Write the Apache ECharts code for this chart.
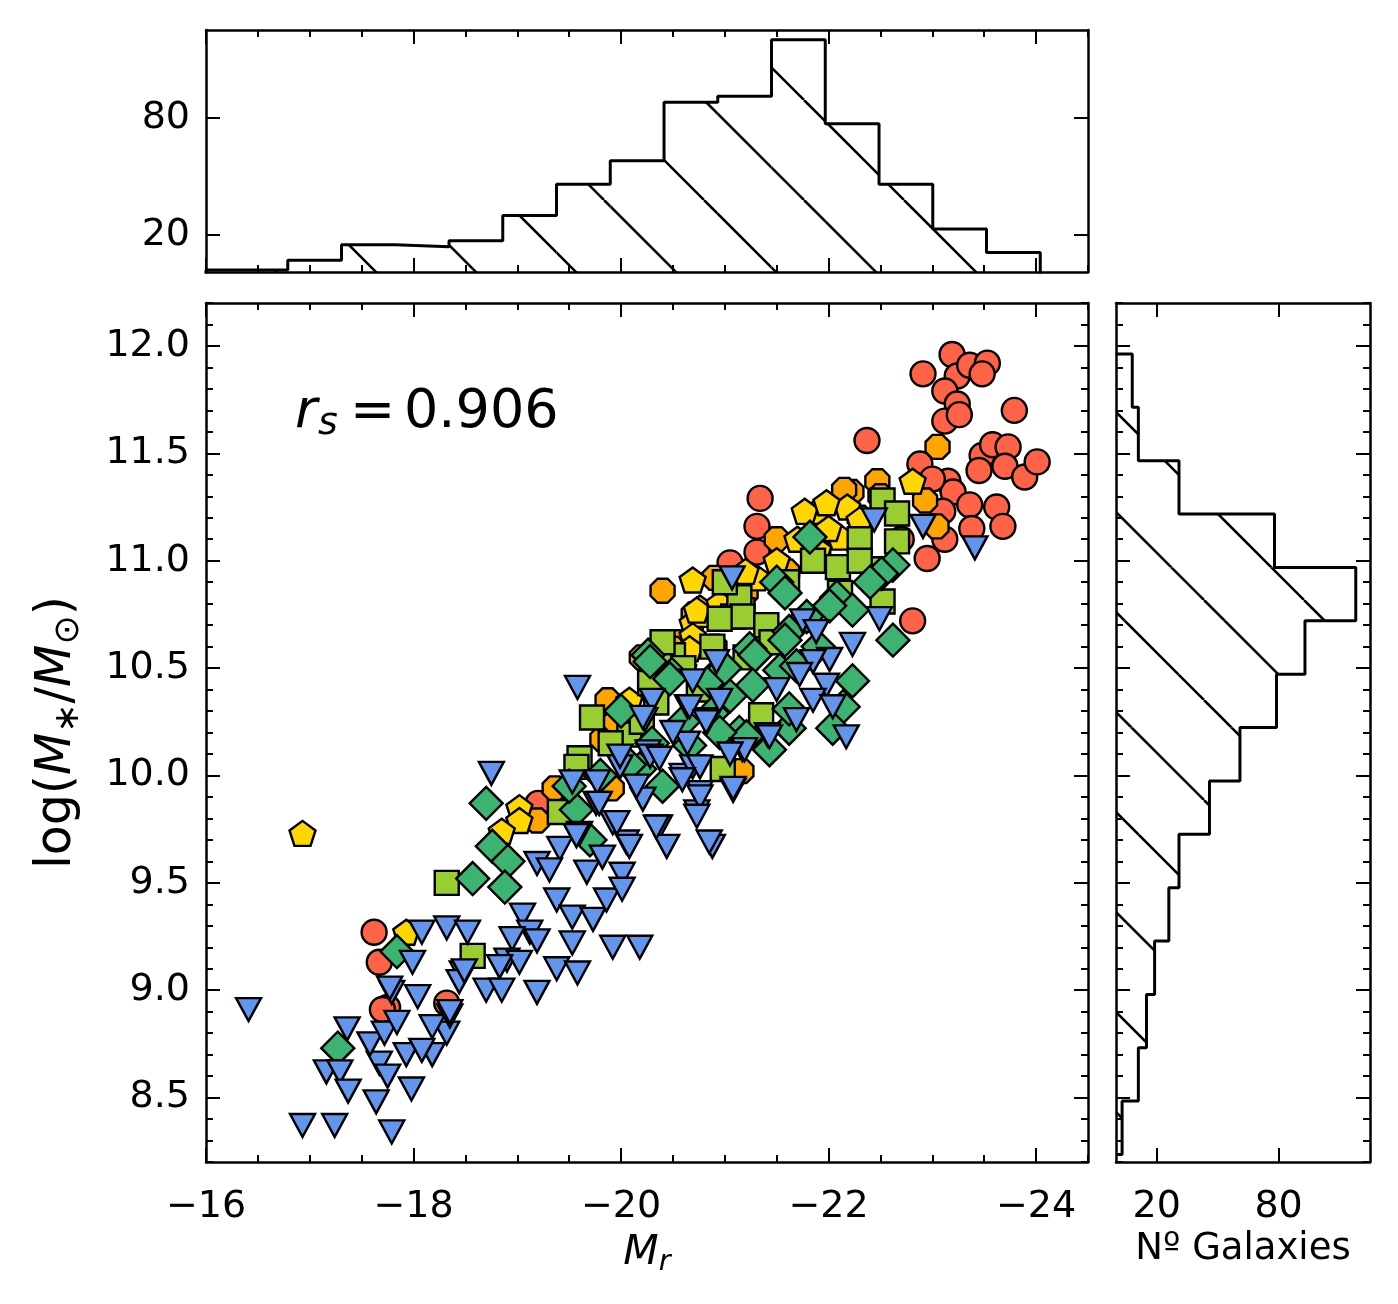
<!DOCTYPE html>
<html>
<head>
<meta charset="utf-8">
<script src="https://cdn.jsdelivr.net/npm/echarts@6/dist/echarts.min.js"></script>
<style>
  html, body { margin: 0; padding: 0; background: #fff; }
  #chart { width: 1398px; height: 1304px; }
</style>
</head>
<body>
<div id="chart"></div>
<script>
// scatter points: [M_r, log(M*/Msun)]
const redCircles = [
  [-23.19,11.96],[-22.91,11.87],[-23.24,11.86],[-23.36,11.91],[-23.53,11.92],[-23.48,11.87],[-23.12,11.79],
  [-23.24,11.73],[-23.12,11.65],[-23.26,11.68],[-23.79,11.70],[-22.37,11.56],[-22.88,11.45],[-23.15,11.37],
  [-23.20,11.32],[-23.36,11.26],[-23.62,11.25],[-23.48,11.49],[-23.58,11.54],[-23.73,11.53],[-23.70,11.44],
  [-23.89,11.39],[-24.01,11.46],[-23.68,11.16],[-23.38,11.15],[-23.12,11.10],[-23.10,11.23],[-22.95,11.01],
  [-22.81,10.72],[-21.34,11.29],[-21.31,11.16],[-21.31,11.04],[-21.05,10.99],[-17.62,9.27],[-17.67,9.13],
  [-17.75,8.92],[-17.70,8.91],[-18.32,8.94],[-19.20,9.87],[-23.00,11.38],[-23.45,11.42],[-22.70,11.10]
];
const orangeOctagons = [
  [-23.05,11.53],[-22.47,11.37],[-22.93,11.28],[-23.04,11.16],[-22.22,11.32],[-22.15,11.33],[-20.40,10.86],
  [-20.90,10.92],[-19.87,10.35],[-19.82,10.17],[-20.54,10.62],[-20.50,10.59],[-19.36,9.94],[-19.91,9.94],
  [-19.19,9.79],[-21.16,10.02],[-20.70,10.75],[-21.20,10.85],[-21.60,10.95],[-21.90,11.05],[-22.30,11.20],
  [-20.90,10.60],[-21.50,11.10],[-22.50,11.30],[-20.20,10.55],[-19.95,10.25]
];
const goldPentagons = [
  [-16.93,9.73],[-22.81,11.37],[-22.18,11.25],[-21.89,11.23],[-21.77,11.23],[-21.98,11.27],[-20.69,10.91],
  [-21.31,10.92],[-20.76,10.78],[-20.69,10.71],[-22.11,11.11],[-22.30,11.19],[-20.78,10.75],[-20.73,10.77],
  [-20.69,10.65],[-20.66,10.59],[-20.08,10.35],[-19.02,9.85],[-19.02,9.79],[-18.85,9.74],[-17.93,9.27],
  [-21.50,11.00],[-21.70,11.10],[-21.20,10.95],[-20.95,10.80],[-22.00,11.15],[-20.60,10.50],[-20.40,10.45],
  [-21.90,11.05],[-20.30,10.40]
];
const greenSquares = [
  [-22.52,11.28],[-22.66,11.22],[-22.30,11.10],[-22.66,11.09],[-22.49,10.96],[-22.09,10.97],[-21.17,10.77],
  [-21.08,10.74],[-22.11,10.85],[-21.14,10.83],[-21.17,10.74],[-20.95,10.73],[-20.88,10.60],[-20.28,10.43],
  [-20.50,10.56],[-19.72,10.27],[-20.08,10.19],[-19.60,10.08],[-19.57,10.04],[-19.41,9.83],[-18.32,9.50],
  [-18.57,9.16],[-22.52,10.81],[-21.35,10.28],[-20.34,10.34],[-20.98,10.03],[-20.60,10.50],[-21.40,10.70],
  [-21.60,10.90],[-21.85,11.00],[-20.20,10.25],[-20.75,10.40],[-21.20,10.55],[-22.30,11.00],[-19.90,10.15],
  [-21.00,10.90],[-20.40,10.62],[-21.45,10.62]
];
const seaDiamonds = [
  [-21.82,11.11],[-22.62,10.98],[-22.51,10.94],[-22.08,10.83],[-22.23,10.77],[-21.79,10.74],[-21.50,10.90],
  [-21.58,10.85],[-22.62,10.63],[-21.24,10.59],[-21.62,10.67],[-20.26,10.56],[-20.49,10.47],[-21.29,10.56],
  [-21.27,10.42],[-21.05,10.37],[-20.85,10.44],[-22.01,10.79],[-21.58,10.63],[-21.53,10.49],[-22.23,10.44],
  [-22.14,10.32],[-22.04,10.22],[-21.62,10.22],[-21.43,10.12],[-21.14,10.20],[-19.57,9.84],[-19.70,9.70],
  [-18.70,9.87],[-18.76,9.67],[-18.91,9.60],[-18.57,9.52],[-18.88,9.48],[-17.84,9.18],[-17.27,8.73],
  [-20.28,10.53],[-20.47,10.45],[-21.21,10.18],[-20.66,10.14],[-20.18,10.03],[-20.88,10.29],[-21.69,10.51],
  [-21.62,10.31],[-20.08,10.05],[-20.00,10.30],[-20.60,10.25],[-19.80,10.00],[-19.50,9.95],[-20.30,10.15],
  [-21.00,10.50],[-21.90,10.60],[-22.40,10.90],[-20.95,10.20],[-20.40,9.95]
];
const blueTriangles = [
  [-16.41,8.91],[-17.36,8.82],[-17.16,8.62],[-17.29,8.62],[-17.37,8.53],[-16.93,8.37],[-17.24,8.37],
  [-17.79,8.34],[-17.64,8.48],[-17.67,8.66],[-17.75,8.60],[-17.58,8.75],[-17.72,8.80],[-17.84,8.85],
  [-17.93,8.70],[-17.98,8.54],[-18.18,8.70],[-18.08,8.72],[-18.32,8.80],[-18.18,8.83],[-18.35,8.88],
  [-17.79,8.99],[-18.04,8.97],[-17.99,9.13],[-18.08,9.27],[-18.32,9.29],[-18.52,9.27],[-18.47,9.08],
  [-18.44,9.04],[-17.77,9.01],
  [-18.75,10.01],[-19.60,9.73],[-19.41,9.66],[-19.19,9.59],[-19.67,9.55],[-19.82,9.62],[-20.01,9.54],
  [-20.05,9.69],[-19.92,9.78],[-19.76,9.87],[-19.53,9.97],[-19.77,9.97],[-19.99,10.04],[-20.21,9.89],
  [-20.37,9.76],[-20.44,9.67],[-20.88,9.67],[-20.73,9.83],[-20.76,9.92],[-21.08,9.93],[-20.59,10.00],
  [-20.69,10.04],[-19.38,9.42],[-19.53,9.34],[-19.73,9.33],[-19.86,9.42],[-20.01,9.47],[-19.05,9.35],
  [-19.12,9.27],[-18.95,9.24],[-19.19,9.23],[-18.90,9.14],[-19.02,9.13],[-18.83,9.11],[-18.49,9.09],
  [-18.70,9.00],[-18.85,9.00],[-19.19,8.99],[-19.38,9.10],[-19.58,9.08],[-19.92,9.20],[-20.18,9.20],
  [-18.35,8.90],[-19.53,9.22],[-19.57,9.72],[-19.31,9.56],
  [-21.07,10.92],[-20.92,10.53],[-20.69,10.44],[-20.30,10.35],[-20.64,10.32],[-20.23,10.26],[-20.83,10.25],
  [-20.64,10.15],[-20.26,10.11],[-19.99,10.09],[-21.17,10.12],[-19.58,10.41],
  [-22.49,10.73],[-21.75,10.72],[-21.88,10.67],[-22.23,10.61],[-22.01,10.54],[-21.85,10.53],[-21.72,10.47],
  [-21.50,10.40],[-21.98,10.42],[-21.85,10.35],[-22.04,10.32],[-21.69,10.26],[-22.17,10.18],[-21.41,10.19],
  [-21.19,10.12],[-21.05,10.10],[-21.08,9.94],[-20.83,10.26],
  [-22.44,11.19],[-22.91,11.16],[-23.41,11.06],
  [-20.66,10.32],[-20.21,10.27],[-20.82,10.25],[-21.43,10.18],[-20.28,10.09],[-20.37,10.08],[-20.76,10.04],
  [-20.59,9.98],[-20.76,9.90],[-19.96,9.78],[-20.34,9.76],[-20.73,9.81],[-20.85,9.69],[-20.08,9.67],
  [-19.79,9.87],[-20.50,10.20],[-20.95,10.35],[-20.15,9.95]
];

// marginal histograms
const mrBinEdges = [-16.0,-16.788,-17.306,-17.824,-18.342,-18.86,-19.378,-19.896,-20.414,-20.932,
  -21.45,-21.968,-22.486,-23.004,-23.522,-24.04];
const mrCounts = [2, 7, 15, 14, 17, 30, 46, 58, 88, 91, 120, 77, 46, 23, 11];
const massBinEdges = [8.235,8.4835,8.732,8.9805,9.229,9.4775,9.726,9.9745,10.223,10.4715,10.72,
  10.9685,11.217,11.4655,11.714,11.9625];
const massCounts = [3, 11, 15, 19, 26, 31, 46, 61, 79, 93, 118, 78, 31, 11, 8];

// ticks
const mrMajorTicks = [-16, -18, -20, -22, -24];
const massMajorTicks = [8.5, 9.0, 9.5, 10.0, 10.5, 11.0, 11.5, 12.0];
const countTicks = [20, 80];
const rsText = '0.906';

const MR_MIN = -24.5, MR_MAX = -16;
const MASS_MIN = 8.2, MASS_MAX = 12.2;
const N_MIN_TOP = 1, N_MAX = 125;
const FONT = 'DejaVu Sans';

const mrMinorTicks = [];
for (let v = MR_MIN; v <= MR_MAX + 1e-9; v += 0.5) {
  if (Math.abs(v % 2) > 1e-6) mrMinorTicks.push(+v.toFixed(1));
}
const massMinorTicks = [];
for (let k = Math.round(MASS_MIN * 10); k <= Math.round(MASS_MAX * 10); k++) {
  if (k % 5 !== 0) massMinorTicks.push(k / 10);
}

function hatchPattern() {
  const c = document.createElement('canvas');
  c.width = 100; c.height = 100;
  const g = c.getContext('2d');
  g.strokeStyle = '#000';
  g.lineWidth = 2.6;
  [-100, 0, 100].forEach(function (dx) {
    g.beginPath();
    g.moveTo(4 + dx, 0);
    g.lineTo(104 + dx, 100);
    g.stroke();
  });
  return { image: c, repeat: 'repeat' };
}
const hatch = hatchPattern();

function minusFmt(v) {
  return v < 0 ? '\u2212' + Math.abs(v) : String(v);
}

function axis(grid, pos, min, max, ticks, len, opts) {
  opts = opts || {};
  const a = {
    type: 'value',
    gridIndex: grid,
    position: pos,
    min: min,
    max: max,
    inverse: !!opts.inverse,
    splitLine: { show: false },
    axisLine: { show: !!opts.line, onZero: false, lineStyle: { color: '#000', width: 2.5 } },
    axisTick: { show: true, inside: true, length: len, customValues: ticks,
      lineStyle: { color: '#000', width: 2 } },
    axisLabel: { show: false }
  };
  if (opts.labels) {
    a.axisLabel = {
      show: true, customValues: ticks, formatter: opts.formatter,
      color: '#000', fontSize: 38, fontFamily: FONT, margin: opts.margin,
      showMinLabel: true, showMaxLabel: true
    };
  }
  if (opts.name) Object.assign(a, opts.name);
  return a;
}

const xAxes = [
  // main
  axis(0, 'bottom', MR_MIN, MR_MAX, mrMajorTicks, 14, { inverse: true, line: true, labels: true,
    formatter: minusFmt, margin: 26,
    name: {
      name: '{b|M}{s|r}', nameLocation: 'middle', nameGap: 67,
      nameTextStyle: { rich: {
        b: { fontSize: 41, fontStyle: 'italic', fontFamily: FONT, color: '#000', lineHeight: 48 },
        s: { fontSize: 29, fontStyle: 'italic', fontFamily: FONT, color: '#000', lineHeight: 30, verticalAlign: 'bottom' }
      } }
    } }),
  axis(0, 'bottom', MR_MIN, MR_MAX, mrMinorTicks, 7, { inverse: true }),
  axis(0, 'top', MR_MIN, MR_MAX, mrMajorTicks, 14, { inverse: true, line: true }),
  axis(0, 'top', MR_MIN, MR_MAX, mrMinorTicks, 7, { inverse: true }),
  // top histogram
  axis(1, 'bottom', MR_MIN, MR_MAX, mrMajorTicks, 14, { inverse: true, line: true }),
  axis(1, 'bottom', MR_MIN, MR_MAX, mrMinorTicks, 7, { inverse: true }),
  axis(1, 'top', MR_MIN, MR_MAX, mrMajorTicks, 14, { inverse: true, line: true }),
  axis(1, 'top', MR_MIN, MR_MAX, mrMinorTicks, 7, { inverse: true }),
  // right histogram
  axis(2, 'bottom', 0, N_MAX, countTicks, 14, { line: true, labels: true, margin: 26,
    formatter: function (v) { return String(v); },
    name: {
      name: 'N\u00ba Galaxies', nameLocation: 'middle', nameGap: 66,
      nameTextStyle: { fontSize: 37, fontFamily: FONT, color: '#000' }
    } }),
  axis(2, 'top', 0, N_MAX, countTicks, 14, { line: true })
];

const yAxes = [
  // main
  axis(0, 'left', MASS_MIN, MASS_MAX, massMajorTicks, 14, { line: true, labels: true, margin: 16,
    formatter: function (v) { return v.toFixed(1); },
    name: {
      name: '{a|log(}{b|M}{s|\u2217}{a|/}{b|M}{s|\u2299}{a|)}', nameLocation: 'middle', nameGap: 120,
      nameRotate: 90,
      nameTextStyle: { rich: {
        a: { fontSize: 49, fontFamily: FONT, color: '#000', lineHeight: 58 },
        b: { fontSize: 49, fontStyle: 'italic', fontFamily: FONT, color: '#000', lineHeight: 58 },
        s: { fontSize: 35, fontFamily: FONT, color: '#000', lineHeight: 36, verticalAlign: 'bottom' }
      } }
    } }),
  axis(0, 'left', MASS_MIN, MASS_MAX, massMinorTicks, 7, {}),
  axis(0, 'right', MASS_MIN, MASS_MAX, massMajorTicks, 14, { line: true }),
  axis(0, 'right', MASS_MIN, MASS_MAX, massMinorTicks, 7, {}),
  // top histogram
  axis(1, 'left', N_MIN_TOP, N_MAX, countTicks, 14, { line: true, labels: true, margin: 16,
    formatter: function (v) { return String(v); } }),
  axis(1, 'right', N_MIN_TOP, N_MAX, countTicks, 14, { line: true }),
  // right histogram
  axis(2, 'left', MASS_MIN, MASS_MAX, massMajorTicks, 14, { line: true }),
  axis(2, 'left', MASS_MIN, MASS_MAX, massMinorTicks, 7, {}),
  axis(2, 'right', MASS_MIN, MASS_MAX, massMajorTicks, 14, { line: true }),
  axis(2, 'right', MASS_MIN, MASS_MAX, massMinorTicks, 7, {})
];

const OCTAGON = 'path://M29,0 L71,0 L100,29 L100,71 L71,100 L29,100 L0,71 L0,29 Z';
const PENTAGON = 'path://M50,0 L97.6,34.5 L79.4,90.5 L20.6,90.5 L2.4,34.5 Z';
const TRI_DOWN = 'path://M0,0 L100,0 L50,100 Z';

function scatter(data, symbol, size, color) {
  return {
    type: 'scatter', xAxisIndex: 0, yAxisIndex: 0, data: data,
    symbol: symbol, symbolSize: size,
    itemStyle: { color: color, borderColor: '#000', borderWidth: 2.4, opacity: 1 },
    emphasis: { disabled: true }
  };
}

const mrBins = mrCounts.map(function (n, i) { return [mrBinEdges[i], mrBinEdges[i + 1], n]; });
const massBins = massCounts.map(function (n, i) { return [n, massBinEdges[i], massBinEdges[i + 1]]; });

const mrOutline = [[mrBinEdges[0], 0]];
mrCounts.forEach(function (n, i) { mrOutline.push([mrBinEdges[i], n], [mrBinEdges[i + 1], n]); });
mrOutline.push([mrBinEdges[mrBinEdges.length - 1], 0]);

const massOutline = [[0, massBinEdges[0]]];
massCounts.forEach(function (n, i) { massOutline.push([n, massBinEdges[i]], [n, massBinEdges[i + 1]]); });
massOutline.push([0, massBinEdges[massBinEdges.length - 1]]);

function rectBetween(p, q) {
  return {
    x: Math.min(p[0], q[0]), y: Math.min(p[1], q[1]),
    width: Math.abs(q[0] - p[0]), height: Math.abs(q[1] - p[1])
  };
}

const series = [
  scatter(redCircles, 'circle', 25, '#FF6347'),
  scatter(orangeOctagons, OCTAGON, 24, '#FFA500'),
  scatter(goldPentagons, PENTAGON, [26, 25], '#FFD700'),
  scatter(greenSquares, 'rect', 24, '#9ACD32'),
  scatter(seaDiamonds, 'diamond', 33, '#3CB371'),
  scatter(blueTriangles, TRI_DOWN, [25, 23], '#6495ED'),
  {
    type: 'custom', xAxisIndex: 4, yAxisIndex: 4, data: mrBins,
    encode: { x: [0, 1], y: 2 }, clip: true, silent: true,
    renderItem: function (params, api) {
      const p = api.coord([api.value(0), api.value(2)]);
      const q = api.coord([api.value(1), N_MIN_TOP]);
      return { type: 'rect', shape: rectBetween(p, q), style: { fill: hatch } };
    }
  },
  {
    type: 'line', xAxisIndex: 4, yAxisIndex: 4, data: mrOutline, symbol: 'none', silent: true,
    lineStyle: { color: '#000', width: 3 }
  },
  {
    type: 'custom', xAxisIndex: 8, yAxisIndex: 6, data: massBins,
    encode: { x: 0, y: [1, 2] }, clip: true, silent: true,
    renderItem: function (params, api) {
      const p = api.coord([api.value(0), api.value(2)]);
      const q = api.coord([0, api.value(1)]);
      return { type: 'rect', shape: rectBetween(p, q), style: { fill: hatch } };
    }
  },
  {
    type: 'line', xAxisIndex: 8, yAxisIndex: 6, data: massOutline, symbol: 'none', silent: true,
    lineStyle: { color: '#000', width: 3 }
  }
];

const chart = echarts.init(document.getElementById('chart'), null, { renderer: 'canvas' });
chart.setOption({
  backgroundColor: '#fff',
  animation: false,
  grid: [
    { left: 206, top: 303, width: 882, height: 859, containLabel: false, outerBoundsMode: 'none' },
    { left: 206, top: 30, width: 882, height: 242, containLabel: false, outerBoundsMode: 'none' },
    { left: 1116, top: 303, width: 254, height: 859, containLabel: false, outerBoundsMode: 'none' }
  ],
  xAxis: xAxes,
  yAxis: yAxes,
  series: series,
  graphic: [
    { type: 'text', x: 295, y: 413, silent: true,
      style: { text: 'r', fontSize: 54, fontStyle: 'italic', fontFamily: FONT, fill: '#000',
        textVerticalAlign: 'middle', verticalAlign: 'middle' } },
    { type: 'text', x: 318, y: 424, silent: true,
      style: { text: 's', fontSize: 38, fontStyle: 'italic', fontFamily: FONT, fill: '#000',
        textVerticalAlign: 'middle', verticalAlign: 'middle' } },
    { type: 'text', x: 350, y: 413, silent: true,
      style: { text: '=', fontSize: 54, fontFamily: FONT, fill: '#000',
        textVerticalAlign: 'middle', verticalAlign: 'middle' } },
    { type: 'text', x: 404, y: 413, silent: true,
      style: { text: rsText, fontSize: 54, fontFamily: FONT, fill: '#000',
        textVerticalAlign: 'middle', verticalAlign: 'middle' } }
  ]
});
</script>
</body>
</html>
